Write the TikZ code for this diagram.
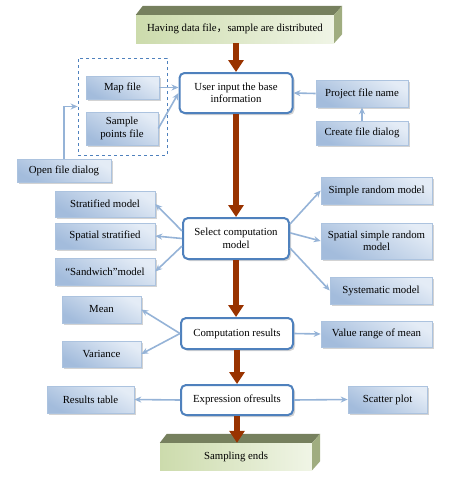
\documentclass[tikz,border=0pt]{standalone}
\usepackage{fontspec}
\setmainfont{Liberation Serif}
\newfontfamily\cjk{Noto Sans CJK SC}
\usetikzlibrary{arrows.meta, shadows, positioning}
\definecolor{boxlight}{RGB}{228,236,246}
\definecolor{boxdark}{RGB}{163,188,220}
\definecolor{boxedge}{RGB}{172,195,223}
\definecolor{mainblue}{RGB}{79,129,189}
\definecolor{linkblue}{RGB}{149,179,215}
\definecolor{darkred}{RGB}{153,51,0}
\definecolor{slabtop}{RGB}{118,128,94}
\definecolor{slabside}{RGB}{160,173,128}
\definecolor{slablight}{RGB}{240,245,230}
\definecolor{slabdark}{RGB}{204,219,172}
\tikzset{
  bluebox/.style={draw=boxedge, line width=0.6pt, top color=boxlight, bottom color=boxdark, shading angle=-30,
    align=center, inner sep=1pt, font=\fontsize{10.8}{12.5}\selectfont,
    drop shadow={shadow xshift=1.5pt, shadow yshift=-1.5pt, opacity=0.35}},
  mainbox/.style={draw=mainblue, line width=2pt, fill=white, rounded corners=5pt, align=center,
    inner sep=1pt, font=\fontsize{10.8}{12.5}\selectfont,
    drop shadow={shadow xshift=2pt, shadow yshift=-2pt, opacity=0.35}},
  slabface/.style={left color=slabdark, right color=slablight, inner sep=1pt, font=\fontsize{10.8}{12}\selectfont},
  redarrow/.style={darkred, line width=5.5pt, -{Triangle[length=12pt, width=15pt]}},
  bluearrow/.style={linkblue, line width=1.6pt, -{Stealth[length=7pt, width=6pt]}},
}
% light blue box: name, x, y, text, width, height
\newcommand\bbox[6]{\node[bluebox, minimum width=#5pt, minimum height=#6pt] (#1) at (#2,#3) {#4};}
% green slab faces round a front node
\newcommand\slab[1]{\fill[slabtop] (#1.north west) -- ++(7,-9) -- ([shift={(8,-9)}]#1.north east) -- (#1.north east) -- cycle;
  \fill[slabside] (#1.north east) -- ++(8,-9) -- ([shift={(8,-9)}]#1.south east) -- (#1.south east) -- cycle;}

\begin{document}
\begin{tikzpicture}[x=1pt, y=-1pt]
\useasboundingbox (0,0) rectangle (452,477);

\node[slabface, minimum width=198pt, minimum height=28pt] (start) at (235,29) {Having data file{\cjk ，}sample are distributed};
\slab{start}
\node[slabface, minimum width=152pt, minimum height=27pt] (finish) at (236,456.5) {Sampling ends};
\slab{finish}

\node[draw=mainblue, dashed, line width=0.8pt, minimum width=89pt, minimum height=97pt] (files) at (122.5,106.5) {};

\node[mainbox, minimum width=113pt, minimum height=40pt] (user) at (236,93) {User input the base\\information};
\node[mainbox, minimum width=106pt, minimum height=41pt] (select) at (236,238.5) {Select computation\\model};
\node[mainbox, minimum width=112pt, minimum height=31pt] (comp) at (237,333.5) {Computation results};
\node[mainbox, minimum width=112pt, minimum height=30pt] (expr) at (237,400) {Expression ofresults};

\bbox{map}{122.5}{87.5}{Map file}{73}{23}
\bbox{sample}{122}{128.5}{Sample\\points file}{72}{33}
\bbox{project}{362}{93.5}{Project file name}{92}{27}
\bbox{create}{362}{133}{Create file dialog}{92}{24}
\bbox{open}{64}{170.5}{Open file dialog}{94}{23}

\bbox{strat}{105}{204}{Stratified model}{100}{26}
\bbox{sstrat}{105}{236}{Spatial stratified}{100}{26}
\bbox{sand}{105}{271.5}{``Sandwich''model}{100}{27}
\bbox{simple}{376.5}{190.5}{Simple random model}{111}{27}
\bbox{ssimple}{376.5}{241}{Spatial simple random\\model}{111}{36}
\bbox{syst}{381}{290.5}{Systematic model}{102}{27}

\bbox{mean}{101.5}{309.5}{Mean}{79}{27}
\bbox{var}{101.5}{354}{Variance}{79}{26}
\bbox{range}{376.5}{334}{Value range of mean}{111}{26}
\bbox{table}{90.5}{399.5}{Results table}{87}{27}
\bbox{scatter}{387.5}{399.5}{Scatter plot}{79}{27}

% main flow
\draw[redarrow] (start.south -| user) -- (user.north);
\draw[redarrow] (user.south) -- (select.north);
\draw[redarrow] (select.south) -- (select.south |- comp.north);
\draw[redarrow] (comp.south) -- (expr.north);
\draw[redarrow] (expr.south) -- (expr.south |- finish.north);

% inputs
\draw[bluearrow] (map.east) -- (map.east -| user.west);
\draw[bluearrow] (sample.east) -- (user.west);
\draw[bluearrow] (project.west) -- (user.east);
\draw[bluearrow] (create.north) -- (project.south);
\draw[bluearrow] (open.north) |- (files.west);

% models
\draw[bluearrow] (select.172) -- (strat.east);
\draw[bluearrow] (select.west) -- (sstrat.east);
\draw[bluearrow] (select.188) -- (sand.east);
\draw[bluearrow] (select.15) -- (simple.west);
\draw[bluearrow] (select.6) -- (ssimple.west);
\draw[bluearrow] (select.-10) -- (syst.west);

% results
\draw[bluearrow] (comp.west) -- (mean.east);
\draw[bluearrow] (comp.west) -- (var.east);
\draw[bluearrow] (comp.east) -- (range.west);
\draw[bluearrow] (expr.west) -- (table.east);
\draw[bluearrow] (expr.east) -- (scatter.west);
\end{tikzpicture}
\end{document}
